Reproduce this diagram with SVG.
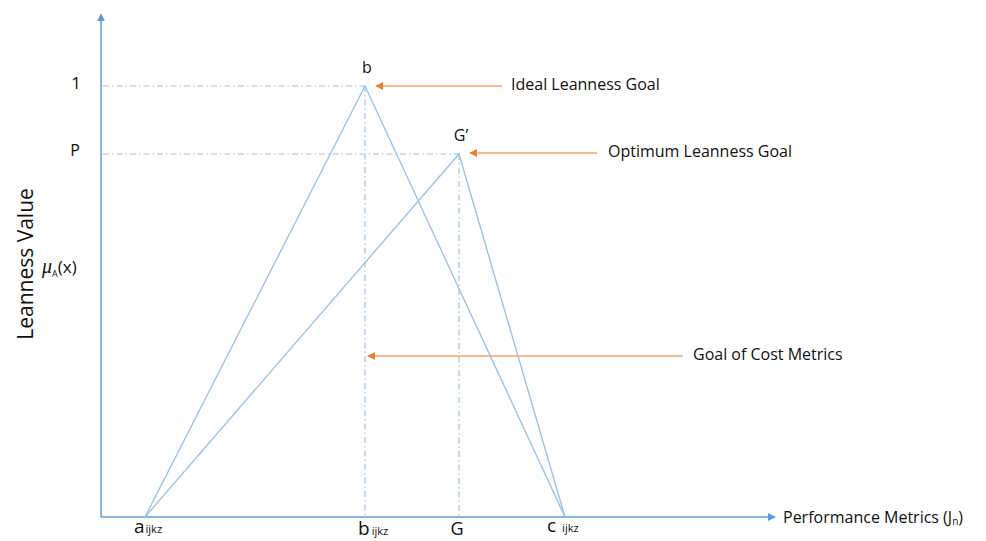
<svg xmlns="http://www.w3.org/2000/svg" width="986" height="541" viewBox="0 0 986 541">
<defs>
<marker id="blueArrow" viewBox="0 0 10 10" refX="9" refY="5" markerWidth="8" markerHeight="8" markerUnits="userSpaceOnUse" orient="auto"><path d="M0,0 L10,5 L0,10 z" fill="#5b9bd5"/></marker>
<marker id="orangeArrow" viewBox="0 0 10 10" refX="9" refY="5" markerWidth="8" markerHeight="8" markerUnits="userSpaceOnUse" orient="auto"><path d="M0,0 L10,5 L0,10 z" fill="#ed7d31"/></marker>
<style>
.axis{stroke:#5b9bd5;stroke-width:1.5;fill:none}
.tri{stroke:#9dc3e6;stroke-width:1.4;fill:none}
.dash{stroke:#9dc3e6;stroke-width:1.2;stroke-dasharray:6 3 1.5 3;fill:none}
.ptr{stroke:#f4a46a;stroke-width:1.6;fill:none}
text{font-family:"Open Sans","Liberation Sans",sans-serif;fill:#111}
.lbl{font-size:16px}
.sub{font-size:11px}
</style>
</defs>
<g id="connectors">
<line class="axis" x1="101" y1="517" x2="101" y2="14" marker-end="url(#blueArrow)"/>
<line class="axis" x1="101" y1="517" x2="775" y2="517" marker-end="url(#blueArrow)"/>
<line class="dash" x1="103" y1="86" x2="365" y2="86"/>
<line class="dash" x1="103" y1="154" x2="459" y2="154"/>
<line class="dash" x1="365" y1="86" x2="365" y2="517"/>
<line class="dash" x1="459" y1="154" x2="459" y2="517"/>
<polyline class="tri" points="145,517 365,86 565,517"/>
<polyline class="tri" points="145,517 459,154 565,517"/>
<line class="ptr" x1="502" y1="86" x2="376" y2="86" marker-end="url(#orangeArrow)"/>
<line class="ptr" x1="597" y1="153" x2="470" y2="153" marker-end="url(#orangeArrow)"/>
<line class="ptr" x1="683" y1="356" x2="368" y2="356" marker-end="url(#orangeArrow)"/>
</g>
<g id="labels">
<text x="76" y="89" font-size="17" text-anchor="middle">1</text>
<text x="75" y="156" font-size="16" text-anchor="middle">P</text>
<text x="367" y="73" font-size="16" text-anchor="middle">b</text>
<text x="461" y="141" font-size="16" text-anchor="middle">G’</text>
<text x="33" y="264" font-size="21" text-anchor="middle" transform="rotate(-90 33 264)">Leanness Value</text>
<text x="42" y="273" font-size="17"><tspan font-style="italic" font-family="'Liberation Serif',serif" font-size="20">μ</tspan><tspan font-size="9" dy="4">A</tspan><tspan dy="-4">(x)</tspan></text>
<text x="134" y="533" font-size="19">a<tspan class="sub" dx="1">ijkz</tspan></text>
<text x="358" y="535" font-size="19">b<tspan class="sub" dx="2">ijkz</tspan></text>
<text x="457" y="535" font-size="18" text-anchor="middle">G</text>
<text x="547" y="532" font-size="19">c<tspan class="sub" dx="6">ijkz</tspan></text>
<text x="783" y="523" font-size="16">Performance Metrics (J<tspan font-size="10" dy="2">n</tspan><tspan dy="-2">)</tspan></text>
<text class="lbl" x="511" y="86" dominant-baseline="middle">Ideal Leanness Goal</text>
<text class="lbl" x="608" y="153" dominant-baseline="middle">Optimum Leanness Goal</text>
<text class="lbl" x="693" y="356" dominant-baseline="middle">Goal of Cost Metrics</text>
</g>
</svg>
